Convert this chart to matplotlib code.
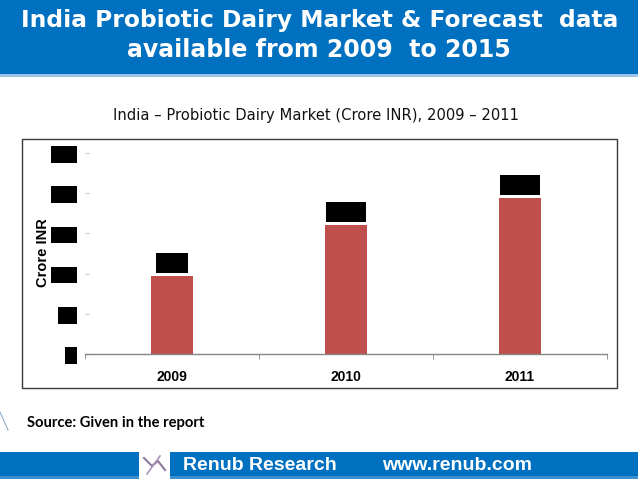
import matplotlib
matplotlib.use("Agg")
import matplotlib.pyplot as plt
from matplotlib.patches import Rectangle

# Data
years = ["2009", "2010", "2011"]
market = [97, 160, 194]          # Crore INR (values hidden in original)
yticks = [0, 50, 100, 150, 200, 250]

header_1 = "India Probiotic Dairy Market & Forecast  data"
header_2 = "available from 2009  to 2015"
chart_title = "India \u2013 Probiotic Dairy Market (Crore INR), 2009 \u2013 2011"
source = "Source: Given in the report"

W, H = 638, 479
blue = "#0070C0"
bar_red = "#C0504D"
grey = "#868686"


def px(x0, y0, x1, y1):
    # pixel box -> figure fraction [l, b, w, h]
    return [x0 / W, 1 - y1 / H, (x1 - x0) / W, (y1 - y0) / H]


fig = plt.figure(figsize=(W / 100, H / 100), dpi=100)

# background layer in pixel coordinates
bg = fig.add_axes([0, 0, 1, 1])
bg.set_xlim(0, W)
bg.set_ylim(H, 0)
bg.axis("off")

bg.add_patch(Rectangle((0, 0), W, 74, color=blue, lw=0))
bg.add_patch(Rectangle((0, 74), W, 2.5, color="#9DC3E6", lw=0))
bg.text(319.5, 20, header_1, color="white", fontsize=16.8, fontweight="bold",
        family="DejaVu Sans", ha="center", va="center")
bg.text(319, 50, header_2, color="white", fontsize=17, fontweight="bold",
        family="DejaVu Sans", ha="center", va="center")

bg.text(316, 115, chart_title, fontsize=10.6, family="DejaVu Sans",
        ha="center", va="center", color="#111111")

bg.add_patch(Rectangle((22, 139), 595, 249, fill=False, ec="#3a3a3a", lw=1))
bg.text(43, 253, "Crore INR", rotation=90, fontsize=10.5, fontweight="bold",
        family="Liberation Sans", ha="center", va="center")

bg.text(27, 423, source, fontsize=10.6, fontweight="bold", family="Lato",
        ha="left", va="center")
bg.plot([0, 8], [412, 430], color="#8EA9C8", lw=0.8)

# footer
bg.add_patch(Rectangle((0, 452), W, 27, color=blue, lw=0))
bg.add_patch(Rectangle((0, 476), W, 3, color="#3D8FD0", lw=0))
bg.add_patch(Rectangle((139, 452), 31, 27, color="white", lw=0))
bg.plot([144, 152, 158, 165], [458, 466, 461, 470], color="#8E7A9E", lw=1.5)
bg.plot([147, 160], [474, 456], color="#A895B5", lw=1.2)
bg.text(183, 465, "Renub Research", color="white", fontsize=14, fontweight="bold",
        family="Liberation Sans", ha="left", va="center")
bg.text(382, 465, "www.renub.com", color="white", fontsize=14, fontweight="bold",
        family="Liberation Sans", ha="left", va="center")

# chart
ax = fig.add_axes(px(85, 140, 607, 354))
x = list(range(len(years)))
bars = ax.bar(x, market, width=0.24, color=bar_red, zorder=2)
ax.set_xlim(-0.5, len(years) - 0.5)
ax.set_ylim(0, 266)
ax.set_facecolor("none")
for s in ["top", "right", "left"]:
    ax.spines[s].set_visible(False)
ax.spines["bottom"].set_color(grey)
ax.spines["bottom"].set_linewidth(1)

ax.set_xticks(x)
ax.set_xticklabels(years, fontsize=10, fontweight="bold", family="Liberation Sans")
ax.set_xticks([i - 0.5 for i in range(len(years) + 1)], minor=True)
ax.tick_params(axis="x", which="major", length=0, pad=11.5)
ax.tick_params(axis="x", which="minor", length=3.5, color=grey, direction="out")

ax.set_yticks(yticks)
ax.set_yticklabels([str(v) for v in yticks], fontsize=9, fontweight="bold",
                   family="Liberation Sans", color="black")
ax.tick_params(axis="y", length=3, color="#C8C8C8", direction="in", pad=7.5)
for lbl in ax.get_yticklabels():
    lbl.set_bbox(dict(boxstyle="square,pad=0.18", fc="black", ec="none"))

# value labels (blacked out like the original)
for xi, v in zip(x, market):
    ax.annotate(f" {v} ", (xi, v), xytext=(0, 4), textcoords="offset points",
                ha="center", va="bottom", fontsize=11.5, fontweight="bold",
                family="Liberation Sans", color="black",
                bbox=dict(boxstyle="square,pad=0.15", fc="black", ec="none"))

fig.savefig("out.png", dpi=100)
